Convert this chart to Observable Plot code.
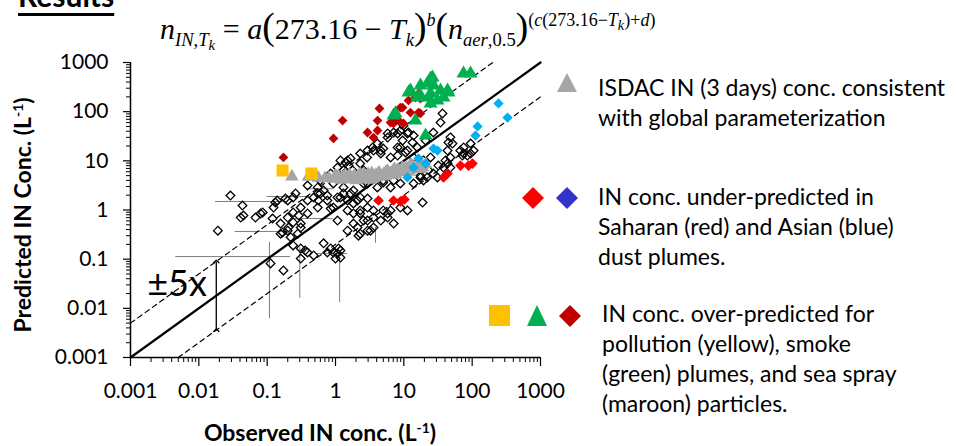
<!DOCTYPE html>
<html>
<head>
<meta charset="utf-8">
<script src="https://cdn.jsdelivr.net/npm/d3@7"></script>
<script src="https://cdn.jsdelivr.net/npm/@observablehq/plot@0.6"></script>
<style>
  html, body { margin: 0; padding: 0; background: #fff; }
  #wrap { position: relative; width: 957px; height: 446px; overflow: hidden; font-family: Lato, "Open Sans", sans-serif; color: #000; }
  #chart { position: absolute; left: 0; top: 0; }
  .abs { position: absolute; white-space: nowrap; }
  .legtext { font-family: Lato, sans-serif; font-size: 23px; line-height: 30px; }
  #title { left: 18px; top: -20px; font-size: 30px; font-weight: 700; line-height: 30px; text-decoration: underline; text-decoration-thickness: 3px; text-underline-offset: 6px; }
  #formula { left: 160px; top: 8px; font-family: "Liberation Serif", "DejaVu Serif", serif; font-size: 30px; line-height: 36px; }
  #formula sub { font-size: 0.62em; vertical-align: -0.35em; line-height: 1; }
  #formula sub sub { font-size: 0.8em; vertical-align: -0.3em; }
  #formula sup { font-size: 0.6em; vertical-align: 0.72em; line-height: 1; }
  #formula sup sub { font-size: 0.8em; vertical-align: -0.25em; }
  .big { font-size: 1.25em; line-height: 1; }
  .axlab { font-family: Lato, sans-serif; font-weight: 700; font-size: 23px; line-height: 24px; }
  .axlab sup { font-size: 0.6em; vertical-align: 0.6em; line-height: 1; }
  #xlab { left: 320px; top: 420px; transform: translateX(-50%); }
  #ylab { left: 22px; top: 215px; transform: translate(-50%, -50%) rotate(-90deg); }
</style>
</head>
<body>
<div id="wrap">
  <div id="chart"></div>
  <div id="title" class="abs">Results</div>
  <div id="formula" class="abs"><i>n</i><sub><i>IN</i>,<i>T<sub>k</sub></i></sub> = <i>a</i><span class="big">(</span>273.16 &minus; <i>T<sub>k</sub></i><span class="big">)</span><sup><i>b</i></sup><span class="big">(</span><i>n</i><sub><i>aer</i>,0.5</sub><span class="big">)</span><sup>(<i>c</i>(273.16&minus;<i>T<sub>k</sub></i>)+<i>d</i>)</sup></div>
  <div id="xlab" class="abs axlab">Observed IN conc. (L<sup>-1</sup>)</div>
  <div id="ylab" class="abs axlab">Predicted IN Conc. (L<sup>-1</sup>)</div>

  <svg class="abs" style="left:556px;top:72px" width="22" height="22"><polygon points="11,1 21,20 1,20" fill="#a6a6a6"/></svg>
  <div class="abs legtext" style="left:598px;top:72px">ISDAC IN (3 days) conc. consistent<br>with global parameterization</div>

  <svg class="abs" style="left:522px;top:187px" width="22" height="22"><polygon points="11,0 22,11 11,22 0,11" fill="#ff0000"/></svg>
  <svg class="abs" style="left:556px;top:187px" width="22" height="22"><polygon points="11,0 22,11 11,22 0,11" fill="#3333cc"/></svg>
  <div class="abs legtext" style="left:598px;top:181px">IN conc. under-predicted in<br>Saharan (red) and Asian (blue)<br>dust plumes.</div>

  <svg class="abs" style="left:489px;top:305px" width="22" height="22"><rect x="0" y="0" width="21" height="21" fill="#ffc000"/></svg>
  <svg class="abs" style="left:526px;top:305px" width="22" height="22"><polygon points="11,0 21,21 1,21" fill="#00b050"/></svg>
  <svg class="abs" style="left:559px;top:305px" width="22" height="22"><polygon points="11,0 22,11 11,22 0,11" fill="#c00000"/></svg>
  <div class="abs legtext" style="left:602px;top:298px">IN conc. over-predicted for<br>pollution (yellow), smoke<br>(green) plumes, and sea spray<br>(maroon) particles.</div>
</div>
<script>
// ---------- axis ticks ----------
const majorTicks = [0.001, 0.01, 0.1, 1, 10, 100, 1000];
const minorMultipliers = [2, 3, 4, 5, 6, 7, 8, 9];

// ---------- reference lines (1:1 and ±5x) ----------
const oneToOneX = [0.001, 1000];
const oneToOneY = [0.001, 1000];
const upper5xX = [0.001, 200];
const upper5xY = [0.005, 1000];
const lower5xX = [0.005, 1000];
const lower5xY = [0.001, 200];

// ±5x annotation
const arrowX = [0.018];
const arrowY1 = [0.0036];
const arrowY2 = [0.09];
const annotLabel = ["\u00B15x"];
const annotX = [0.0048];
const annotY = [0.031];

// ---------- all field data (black open diamonds) ----------
const blackObs = [36.8,34.4,48,45,27,5.8,8.9,11.3,13.9,4.1,3.5,4.6,6.4,8.9,11.3,15.8,20.8,1.18,1.4,1.55,1.07,2.3,2.9,0.39,0.55,0.67,0.93,1.31,1.83,2.94,4.1,5.0,6.4,8.9,13.9,17.5,22,27,38,48,67,75,95,85,105,48,1.18,1.5,1.83,2.3,2.94,3.6,2.3,1.5,0.93,0.76,0.55,0.48,0.39,0.31,0.24,0.2,0.14,0.124,0.08,0.0675,0.0435,0.029,0.019,0.045,0.31,0.2,0.24,0.157,6.4,5.8,7.1,4.6,3.6,2.94,18.8,8.9,11.3,0.12,0.168,0.2,0.22,0.31,0.39,0.55,0.24,0.31,0.39,0.48,0.31,0.112,0.173,1.07,1.5,1.83,2.3,2.94,1.83,2.3,0.67,0.85,0.93,1.0,1.11,0.85,0.36,0.76,1.18,2.17,0.041,0.086,0.132,0.185,0.26,0.24,0.29,0.56,0.157,0.205,0.28,1.07,1.31,1.5,0.6,0.76,5.0,3.6,2.57,2.1,1.18,3.25,5.8,2.94,1.07,1.31,19.4,31,43.6,75,24.6,8.1,1.66,2.3,4.6,7.1,5.0,2.57,1.66,2.1,51.5,43.6,95,72,40.7,32,23,17.5,19.4,13.9,10.6,8.1,5.0,3.6,5.8,8.1,11.7,9.9,7.1,13.4,9.6,2.94,2.57,1.77,0.85,0.6];
const blackPred = [91.8,60,30,23.6,37.7,36,41,36,32.7,22.5,18.7,16.2,11.7,18.7,16.2,18.7,25.9,10.2,9.25,8.0,7.3,8.8,11.7,3.15,2.87,2.49,3.46,2.87,2.49,3.46,2.87,3.63,2.87,3.46,3.46,4.6,4.6,5.5,7.3,7.3,16.2,18.7,22.5,12.8,16.2,11.7,1.8,1.56,1.36,1.8,1.12,0.98,0.85,0.98,1.12,1.56,2.17,1.8,1.56,1.12,1.8,1.56,1.56,1.12,0.85,0.7,1.23,1.97,0.38,0.77,0.44,0.7,0.56,0.33,0.98,0.7,0.53,0.61,0.44,0.61,1.42,1.12,0.98,0.67,0.35,0.38,0.28,0.53,0.85,1.12,0.19,0.165,0.137,0.119,0.103,0.082,0.059,0.61,0.38,0.53,0.33,0.38,0.85,0.98,0.21,0.165,0.137,0.103,0.165,1.07,0.15,0.137,0.15,0.3,0.7,0.89,1.42,1.71,2.17,0.89,0.77,1.56,0.53,0.44,0.33,0.13,2.17,10.2,2.17,1.97,0.98,0.7,0.61,0.44,0.108,0.38,0.85,1.71,1.8,6.4,4.0,4.6,8.8,14.1,11.7,12.8,11.2,14.1,14.1,4.0,4.0,3.46,2.17,1.56,22.5,16.2,14.1,12.8,10.2,8.0,6.4,5.0,10.2,11.7,14.8,18.7,17.8,16.2,29.8,36,37.7,52,37.7,23.6,25.9,16.2,6.4,6.4,5.5,4.0];

// error bars
const hErrY  = [1.49, 0.365, 0.113, 1.88, 0.67, 0.13, 2.7];
const hErrX1 = [0.0175, 0.034, 0.0046, 0.1, 0.24, 0.55, 0.39];
const hErrX2 = [0.2, 0.2, 0.22, 0.39, 0.93, 1.5, 0.93];
const vErrX  = [0.108, 0.3, 1.15, 3.85];
const vErrY1 = [0.0062, 0.0158, 0.013, 0.21];
const vErrY2 = [0.218, 0.17, 0.103, 0.44];

// ---------- ISDAC (gray triangles) ----------
const isdacObs  = [0.23,0.4,0.56,0.8,0.95,1.1,1.25,1.4,1.55,1.7,1.9,2.1,2.3,2.5,2.75,3.0,3.3,3.6,3.9,4.3,4.7,5.1,5.5,6.0,6.5,7.0,7.6,8.2,9.0,10,11,12,13,15,16.5,19,21,
                   0.7,1.0,1.3,1.6,1.8,2.2,2.6,2.9,3.4,4.0,4.5,5.3,5.8,6.8,7.3,8.6,9.5,11.5,14,17.5,18,12.5,3.2,2.0,1.2];
const isdacPred = [4.8,4.7,4.5,4.5,4.3,4.9,4.4,5.1,4.6,4.2,5.0,4.5,5.3,4.7,4.3,5.4,4.8,4.4,5.2,5.7,4.8,5.4,6.0,5.1,5.7,6.3,5.4,6.6,5.9,6.8,7.3,6.3,7.7,7.0,8.2,7.4,8.5,
                   4.4,5.0,4.7,5.2,4.5,4.9,5.4,4.6,5.6,4.6,5.3,4.9,6.2,5.2,6.8,6.2,7.2,6.0,7.6,6.8,8.8,8.2,4.1,4.0,4.1];

// ---------- sea spray (maroon diamonds) ----------
const seaObs  = [0.173,0.935,1.27,4.4,4.12,4.12,2.94,3.6,6.4,8.36,9.57,12.5,11.7,14.8,17.5,16.4,16.4,7.06,7.06,9.9,17.5,8.9];
const seaPred = [11.7,28.5,66,116,66,41.4,37.7,29.8,60,66,121,96,169,194,185,234,96,57.5,72.6,57.5,92,121];

// ---------- smoke (green triangles) ----------
const smokeObs  = [12.5,17.5,24.6,22.2,27.2,24.6,34.4,43.6,31.1,38.1,17.5,7.06,14.8,20.8,74.7,94.6,11.7,45.1,23,24.6,15.8,7.55,26.3];
const smokePred = [269,340,472,374,340,234,269,269,169,194,213,83.6,66,32.7,597,597,245,245,194,147,194,92,495];

// ---------- Asian dust (blue diamonds) ----------
const asianObs  = [243,329,120,112,27.2,31.1,16.4,13.9,11.3,20.8];
const asianPred = [147,76,50,32.7,17.8,16.2,11.2,7.3,4.6,8.8];

// ---------- Saharan dust (red diamonds) ----------
const saharaObs  = [43.6,38.1,67.5,88.4,101,4.26,7.06,8.94,10.2];
const saharaPred = [5.5,4.6,8.0,8.0,8.8,1.56,1.56,1.49,1.64];

// ---------- pollution (yellow squares) ----------
const pollObs  = [0.168, 0.445];
const pollPred = [6.36, 5.53];

// ---------- build tables ----------
const zip = (xs, ys) => xs.map((x, i) => ({x, y: ys[i]}));
const black = zip(blackObs, blackPred);
const isdac = zip(isdacObs, isdacPred);
const sea = zip(seaObs, seaPred);
const smoke = zip(smokeObs, smokePred);
const asian = zip(asianObs, asianPred);
const sahara = zip(saharaObs, saharaPred);
const poll = zip(pollObs, pollPred);
const hErr = hErrY.map((y, i) => ({y, x1: hErrX1[i], x2: hErrX2[i]}));
const vErr = vErrX.map((x, i) => ({x, y1: vErrY1[i], y2: vErrY2[i]}));
const minorTicks = majorTicks.slice(0, -1).flatMap(d => minorMultipliers.map(k => +(d * k).toPrecision(3)));
const arrows = arrowX.map((x, i) => ({x, y1: arrowY1[i], y2: arrowY2[i]}));
const annots = annotLabel.map((t, i) => ({t, x: annotX[i], y: annotY[i]}));

const plot = Plot.plot({
  width: 957,
  height: 446,
  marginLeft: 130,
  marginRight: 417,
  marginTop: 62,
  marginBottom: 89,
  x: {type: "log", domain: [0.001, 1000], axis: null},
  y: {type: "log", domain: [0.001, 1000], axis: null},
  style: {fontFamily: "Lato, sans-serif", fontSize: "21px", color: "#000", background: "transparent", overflow: "visible"},
  marks: [
    // minor ticks
    Plot.axisX(minorTicks, {tickSize: 5, tickFormat: () => "", label: null, strokeWidth: 1}),
    Plot.axisY(minorTicks, {tickSize: 4, tickFormat: () => "", label: null, strokeWidth: 1}),
    // major ticks
    Plot.axisX(majorTicks, {tickSize: 9, tickPadding: 17, tickFormat: d => String(d), label: null, fontSize: 21, strokeWidth: 1.2}),
    Plot.axisY(majorTicks, {tickSize: 7, tickPadding: 15, tickFormat: d => String(d), label: null, fontSize: 21, strokeWidth: 1.2}),
    // axis lines
    Plot.ruleX([majorTicks[0]], {stroke: "#000", strokeWidth: 1.5}),
    Plot.ruleY([majorTicks[0]], {stroke: "#000", strokeWidth: 1.5}),
    // error bars
    Plot.ruleY(hErr, {y: "y", x1: "x1", x2: "x2", stroke: "#7f7f7f", strokeWidth: 1}),
    Plot.ruleX(vErr, {x: "x", y1: "y1", y2: "y2", stroke: "#7f7f7f", strokeWidth: 1}),
    // reference lines
    Plot.line(zip(upper5xX, upper5xY), {x: "x", y: "y", stroke: "#000", strokeWidth: 1.2, strokeDasharray: "5,4"}),
    Plot.line(zip(lower5xX, lower5xY), {x: "x", y: "y", stroke: "#000", strokeWidth: 1.2, strokeDasharray: "5,4"}),
    Plot.line(zip(oneToOneX, oneToOneY), {x: "x", y: "y", stroke: "#000", strokeWidth: 2.3}),
    // data
    Plot.dot(black, {x: "x", y: "y", symbol: "diamond2", r: 3.9, stroke: "#000", strokeWidth: 1.3, fill: "none"}),
    Plot.dot(isdac, {x: "x", y: "y", symbol: "triangle", r: 5, fill: "#a6a6a6", stroke: "none"}),
    Plot.dot(asian, {x: "x", y: "y", symbol: "diamond2", r: 4.6, fill: "#00b0f0", stroke: "none"}),
    Plot.dot(sahara, {x: "x", y: "y", symbol: "diamond2", r: 4.8, fill: "#ff0000", stroke: "none"}),
    Plot.dot(sea, {x: "x", y: "y", symbol: "diamond2", r: 4.4, fill: "#c00000", stroke: "none"}),
    Plot.dot(smoke, {x: "x", y: "y", symbol: "triangle", r: 5.2, fill: "#00b050", stroke: "none"}),
    Plot.dot(poll, {x: "x", y: "y", symbol: "square", r: 6.8, fill: "#ffc000", stroke: "none"}),
    // ±5x annotation
    Plot.link(arrows, {x1: "x", x2: "x", y1: "y1", y2: "y2", stroke: "#000", strokeWidth: 1.3, markerStart: "arrow", markerEnd: "arrow"}),
    Plot.text(annots, {x: "x", y: "y", text: "t", fontSize: 36, textAnchor: "middle", fill: "#000"})
  ]
});
document.getElementById("chart").appendChild(plot);
</script>
</body>
</html>
